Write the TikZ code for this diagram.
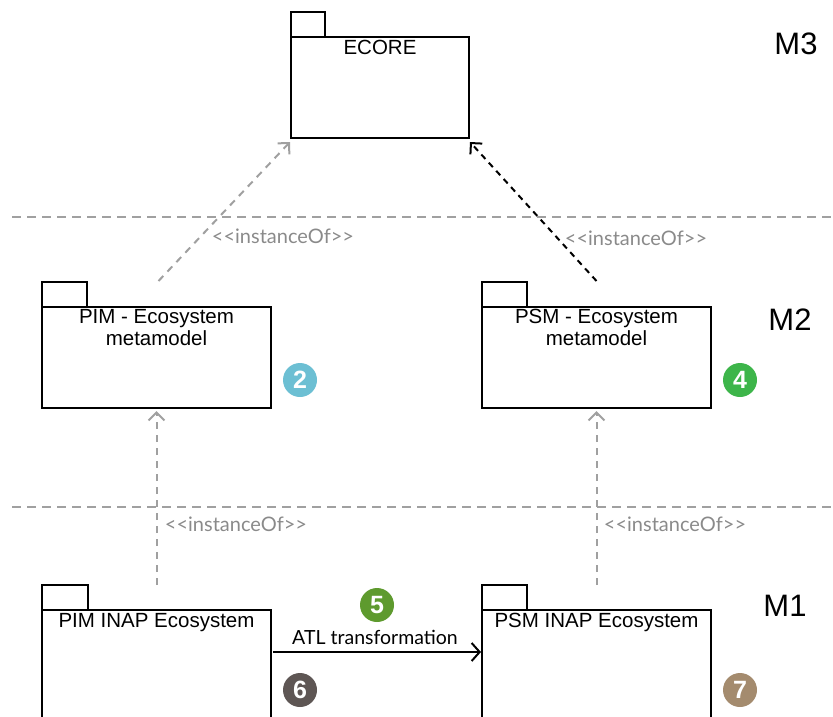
\documentclass[tikz,border=0pt]{standalone}
\usepackage{fontspec}
\setmainfont{Liberation Sans}
\newfontfamily\gillfont{Lato}
\usetikzlibrary{arrows.meta,calc}
\definecolor{dashgray}{HTML}{A0A0A0}
\definecolor{lblgray}{HTML}{8A8A8A}
\definecolor{cblue}{HTML}{6CBFD3}
\definecolor{cgreen}{HTML}{3DB54A}
\definecolor{colive}{HTML}{5E9A2E}
\definecolor{cdark}{HTML}{5E5654}
\definecolor{ctan}{HTML}{A48B6E}
\begin{document}
\begin{tikzpicture}[x=1pt,y=-1pt,
  pkgbody/.style={draw=black,line width=1.8pt,anchor=north west,inner sep=0pt,outer sep=0pt,minimum width=#1},
  pkgtab/.style={draw=black,line width=1.8pt,anchor=south west,inner sep=0pt,outer sep=0pt,minimum width=45pt,minimum height=25pt},
  pkgtext/.style={anchor=north,inner sep=0pt,font=\fontsize{20.5}{22}\selectfont,align=center},
  level/.style={font=\fontsize{31}{33}\selectfont},
  sep/.style={draw=dashgray,line width=1.3pt,dash pattern=on 9pt off 6pt},
  inst/.style={draw=dashgray,line width=2pt,dash pattern=on 7pt off 6pt,-{Straight Barb[length=8pt,width=16pt,line width=2pt]}},
  instblack/.style={draw=black,line width=2pt,dash pattern=on 6pt off 5pt,-{Straight Barb[length=8pt,width=16pt,line width=2pt]}},
  instlbl/.style={text=lblgray,font=\gillfont\fontsize{20}{22}\selectfont,inner sep=0pt},
  num/.style={circle,fill=#1,text=white,minimum size=34pt,inner sep=0pt,font=\bfseries\fontsize{25}{25}\selectfont}
]
\useasboundingbox (0,0) rectangle (833,716);
% separators
\coordinate (s1a) at (12,217);
\coordinate (s1b) at (833,217);
\coordinate (s2a) at (12,507);
\coordinate (s2b) at (833,507);
\draw[sep] (s1a) -- (s1b);
\draw[sep] (s2a) -- (s2b);
% ECORE
\node[pkgbody=178pt,minimum height=101pt] (ecore) at (291,37) {};
\node[pkgtab,minimum width=34pt] (ecoretab) at (ecore.north west) {};
\node[pkgtext] (ecorelbl) at ($(ecore.north)+(0,3)$) {ECORE};
% M2
\node[pkgbody=229pt,minimum height=101pt] (pim) at (42,307) {};
\node[pkgtab] (pimtab) at (pim.north west) {};
\node[pkgtext] (pimlbl) at ($(pim.north)+(0,2)$) {PIM - Ecosystem\\metamodel};
\node[pkgbody=229pt,minimum height=101pt] (psm) at (482,307) {};
\node[pkgtab] (psmtab) at (psm.north west) {};
\node[pkgtext] (psmlbl) at ($(psm.north)+(0,2)$) {PSM - Ecosystem\\metamodel};
% M1
\node[pkgbody=229pt,minimum height=140pt] (piminap) at (42,610) {};
\node[pkgtab,minimum width=46pt] (piminaptab) at (piminap.north west) {};
\node[pkgtext] (piminaplbl) at ($(piminap.north)+(0,3)$) {PIM INAP Ecosystem};
\node[pkgbody=229pt,minimum height=140pt] (psminap) at (482,610) {};
\node[pkgtab] (psminaptab) at (psminap.north west) {};
\node[pkgtext] (psminaplbl) at ($(psminap.north)+(0,3)$) {PSM INAP Ecosystem};
% levels
\node[level] (m3) at (796,44) {M3};
\node[level] (m2) at (790,320) {M2};
\node[level] (m1) at (785,606) {M1};
% numbers
\node[num=cblue] (n2) at (300,380) {2};
\node[num=cgreen] (n4) at (740,380) {4};
\node[num=colive] (n5) at (377,605) {5};
\node[num=cdark] (n6) at (300,690) {6};
\node[num=ctan] (n7) at (740,690) {7};
% instanceOf arrows
\draw[inst] ($(pim.north)+(2,-26)$) -- ($(ecore.south west)+(-1,4)$);
\draw[instblack] ($(psm.north)+(0,-26)$) -- ($(ecore.south east)+(1,4)$);
\draw[inst] ($(piminap.north)+(0,-25)$) -- ($(pim.south)+(0,3)$);
\draw[inst] ($(psminap.north)+(0,-25)$) -- ($(psm.south)+(0,3)$);
\node[instlbl] (l1) at (283,236) {<{}<instanceOf>{}>};
\node[instlbl] (l2) at (636,238) {<{}<instanceOf>{}>};
\node[instlbl] (l3) at (236,524) {<{}<instanceOf>{}>};
\node[instlbl] (l4) at (675,524) {<{}<instanceOf>{}>};
% ATL
\draw[line width=2pt,-{Straight Barb[length=8pt,width=18pt,line width=2pt]}] ($(piminap.north east)+(2,42)$) -- ($(psminap.north west)+(-1,42)$);
\node[font=\gillfont\fontsize{19.5}{21}\selectfont,inner sep=0pt] (atl) at (375,637) {ATL transformation};
\end{tikzpicture}
\end{document}
